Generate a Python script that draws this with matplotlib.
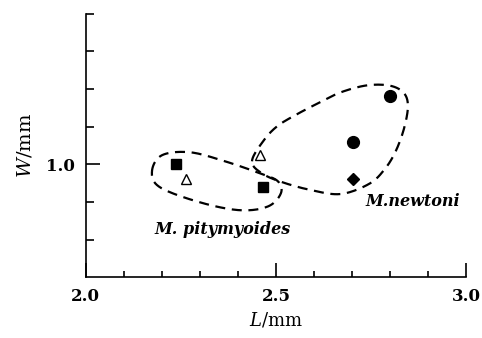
import numpy as np
from matplotlib import pyplot as plt
from matplotlib.ticker import FixedLocator, MultipleLocator

plt.rcParams["mathtext.fontset"] = "dejavuserif"

# body length L and width W (mm) for each specimen
sq_L = [2.237, 2.466]
sq_W = [1.000, 0.941]
tri_L = [2.263, 2.458]
tri_W = [0.960, 1.024]
circ_L = [2.800, 2.703]
circ_W = [1.181, 1.058]
dia_L = [2.703]
dia_W = [0.960]

# hand-drawn outlines around the two species groups
pity_L = [2.174, 2.200, 2.274, 2.366, 2.458, 2.505, 2.513, 2.479, 2.405,
          2.300, 2.195]
pity_W = [0.981, 1.024, 1.032, 1.008, 0.976, 0.955, 0.923, 0.888, 0.878,
          0.899, 0.939]
newt_L = [2.437, 2.466, 2.503, 2.555, 2.616, 2.672, 2.740, 2.800, 2.836,
          2.847, 2.837, 2.815, 2.786, 2.745, 2.670, 2.590, 2.515, 2.463]
newt_W = [1.008, 1.061, 1.101, 1.133, 1.165, 1.192, 1.210, 1.209, 1.190,
          1.155, 1.096, 1.035, 0.987, 0.948, 0.921, 0.932, 0.953, 0.976]


def closed_curve(xs, ys, n=20):
    # periodic Catmull-Rom spline through the outline points
    p = np.column_stack([xs, ys])
    k = len(p)
    out = []
    for i in range(k):
        p0, p1, p2, p3 = p[i - 1], p[i], p[(i + 1) % k], p[(i + 2) % k]
        t = np.linspace(0, 1, n, endpoint=False)[:, None]
        seg = 0.5 * ((2 * p1) + (-p0 + p2) * t
                     + (2 * p0 - 5 * p1 + 4 * p2 - p3) * t ** 2
                     + (-p0 + 3 * p1 - 3 * p2 + p3) * t ** 3)
        out.append(seg)
    out.append(p[:1])
    out = np.vstack(out)
    return out[:, 0], out[:, 1]


fig = plt.figure(figsize=(4.82, 3.38), dpi=100)
ax = fig.add_axes([0.178, 0.180, 0.789, 0.779])

for xs, ys in [(pity_L, pity_W), (newt_L, newt_W)]:
    cx, cy = closed_curve(xs, ys)
    ax.plot(cx, cy, color="black", lw=1.6, ls=(0, (4.5, 3)))

ax.plot(sq_L, sq_W, "s", color="black", ms=7.5)
ax.plot(tri_L, tri_W, "^", mfc="white", mec="black", mew=1.0, ms=6.5)
ax.plot(circ_L, circ_W, "o", color="black", ms=8.5)
ax.plot(dia_L, dia_W, "D", color="black", ms=6.5)

ax.set_xlim(2.0, 3.0)
ax.set_ylim(0.7, 1.4)
ax.spines["top"].set_visible(False)
ax.spines["right"].set_visible(False)
ax.spines["left"].set_linewidth(1.2)
ax.spines["bottom"].set_linewidth(1.2)

ax.xaxis.set_major_locator(FixedLocator([2.0, 2.5, 3.0]))
ax.xaxis.set_minor_locator(MultipleLocator(0.1))
ax.yaxis.set_major_locator(FixedLocator([1.0]))
ax.yaxis.set_minor_locator(FixedLocator([0.8, 0.9, 1.1, 1.2, 1.3, 1.4]))
ax.set_xticklabels(["2.0", "2.5", "3.0"])
ax.set_yticklabels(["1.0"])
ax.tick_params(which="major", direction="in", length=10, width=1.2, pad=8)
ax.tick_params(which="minor", direction="in", length=6, width=1.2)
ax.tick_params(axis="x", which="minor", length=4.5)
for lab in ax.get_xticklabels() + ax.get_yticklabels():
    lab.set_fontfamily("DejaVu Serif")
    lab.set_fontweight("bold")
    lab.set_fontsize(12)

ax.set_xlabel(r"$\mathit{L}$/mm", fontfamily="DejaVu Serif", fontsize=13, labelpad=4)
ax.set_ylabel(r"$\mathit{W}$/mm", fontfamily="DejaVu Serif", fontsize=14, labelpad=8)

ax.text(2.36, 0.827, "M. pitymyoides", fontfamily="DejaVu Serif", style="italic",
        fontweight="bold", fontsize=11.5, ha="center", va="center")
ax.text(2.86, 0.902, "M.newtoni", fontfamily="DejaVu Serif", style="italic",
        fontweight="bold", fontsize=11.5, ha="center", va="center")

fig.savefig("out.png", dpi=100)
